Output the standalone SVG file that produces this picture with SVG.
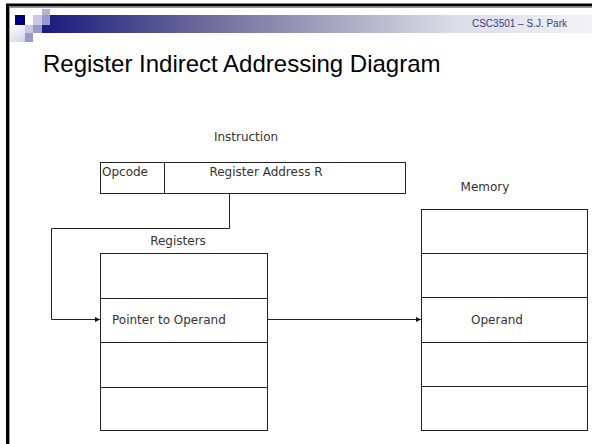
<svg xmlns="http://www.w3.org/2000/svg" width="592" height="444" viewBox="0 0 592 444">
<defs>
<linearGradient id="bar" x1="0" y1="0" x2="1" y2="0">
<stop offset="0" stop-color="#1a1a80"/>
<stop offset="0.3" stop-color="#6c6c9c"/>
<stop offset="0.75" stop-color="#dcdce6"/>
<stop offset="1" stop-color="#f2f2f6"/>
</linearGradient>
<linearGradient id="fade" x1="0" y1="0" x2="1" y2="1">
<stop offset="0" stop-color="#ffffff"/>
<stop offset="1" stop-color="#c8c8e0"/>
</linearGradient>
<marker id="arr" markerWidth="6" markerHeight="6" refX="5" refY="3" orient="auto" markerUnits="userSpaceOnUse">
<path d="M0,0.5 L5,3 L0,5.5 z" fill="#111"/>
</marker>
<style>
.box{fill:#fff;stroke:#222;stroke-width:1}
.div{stroke:#222;stroke-width:1}
.t{font-family:"DejaVu Sans",sans-serif;font-size:12px;fill:#333}
.conn{fill:none;stroke:#222;stroke-width:1}
</style>
</defs>
<rect x="0" y="0" width="592" height="444" fill="#fff"/>
<!-- slide frame -->
<line x1="6" y1="5" x2="592" y2="5" stroke="#000" stroke-width="3"/>
<line x1="7.5" y1="4" x2="7.5" y2="444" stroke="#000" stroke-width="3"/>
<line x1="9.5" y1="7" x2="9.5" y2="444" stroke="#999" stroke-width="1"/>
<line x1="9" y1="7.5" x2="592" y2="7.5" stroke="#999" stroke-width="1"/>
<!-- header -->
<rect x="42" y="15" width="550" height="18" fill="url(#bar)"/>
<rect x="10" y="25" width="23" height="17" fill="url(#fade)"/>
<rect x="15" y="15" width="10" height="10" fill="#00007a"/>
<rect x="33" y="15" width="9" height="10" fill="#c8c8e4"/>
<rect x="42" y="9" width="8" height="6" fill="#b4b4d8"/>
<rect x="42" y="15" width="8" height="10" fill="#9a9ad0"/>
<rect x="25" y="25" width="8" height="8" fill="#c8c8e4"/>
<rect x="33" y="25" width="9" height="8" fill="#9a9ad0"/>
<rect x="25" y="33" width="8" height="9" fill="#9a9ad0"/>
<text x="567" y="27" text-anchor="end" font-family="Liberation Sans,Arial,sans-serif" font-size="10" fill="#3a3a8c">CSC3501 – S.J. Park</text>
<text x="43" y="72" font-family="Liberation Sans,Arial,sans-serif" font-size="24" fill="#000">Register Indirect Addressing Diagram</text>
<!-- instruction -->
<g id="instruction">
<text class="t" x="246" y="141" text-anchor="middle">Instruction</text>
<rect class="box" x="100.5" y="162.5" width="305" height="31"/>
<line class="div" x1="164.5" y1="162.5" x2="164.5" y2="193.5"/>
<text class="t" x="102" y="176">Opcode</text>
<text class="t" x="266" y="176" text-anchor="middle">Register Address R</text>
</g>
<!-- registers -->
<g id="registers">
<text class="t" x="178" y="245" text-anchor="middle">Registers</text>
<rect class="box" x="100.5" y="253.5" width="167" height="177"/>
<line class="div" x1="100.5" y1="298.5" x2="267.5" y2="298.5"/>
<line class="div" x1="100.5" y1="342.5" x2="267.5" y2="342.5"/>
<line class="div" x1="100.5" y1="387.5" x2="267.5" y2="387.5"/>
<text class="t" x="112" y="324">Pointer to Operand</text>
</g>
<!-- memory -->
<g id="memory">
<text class="t" x="485" y="191" text-anchor="middle">Memory</text>
<rect class="box" x="421.5" y="209.5" width="166" height="221"/>
<line class="div" x1="421.5" y1="253.5" x2="587.5" y2="253.5"/>
<line class="div" x1="421.5" y1="297.5" x2="587.5" y2="297.5"/>
<line class="div" x1="421.5" y1="342.5" x2="587.5" y2="342.5"/>
<line class="div" x1="421.5" y1="386.5" x2="587.5" y2="386.5"/>
<text class="t" x="497" y="324" text-anchor="middle">Operand</text>
</g>
<!-- connectors -->
<g id="connectors">
<path class="conn" d="M229.5,193.5 V228.5 H51.5 V319.5 H100" marker-end="url(#arr)"/>
<path class="conn" d="M267.5,319.5 H421" marker-end="url(#arr)"/>
</g>
</svg>
